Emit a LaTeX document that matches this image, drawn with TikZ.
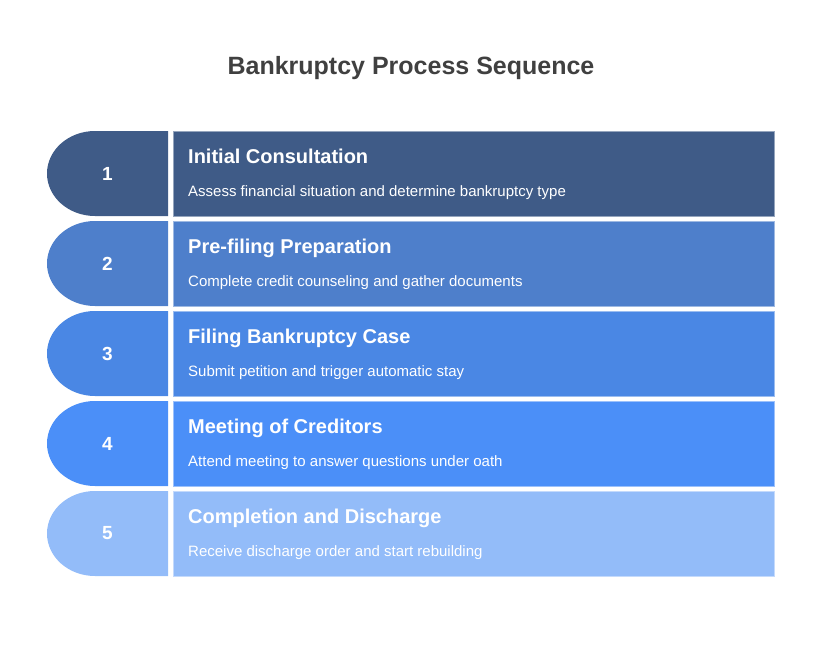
\documentclass[tikz,border=0pt]{standalone}
\usepackage{fontspec}
\setmainfont{Liberation Sans}

\definecolor{titlegray}{HTML}{404040}
\definecolor{stepone}{HTML}{3F5B87}
\definecolor{steptwo}{HTML}{4E7FCB}
\definecolor{stepthree}{HTML}{4A87E4}
\definecolor{stepfour}{HTML}{4B8FF8}
\definecolor{stepfive}{HTML}{93BCF9}

\tikzset{
    titlelabel/.style={font=\fontsize{25}{29}\selectfont\bfseries, text=titlegray, anchor=base, inner sep=0pt},
    numlabel/.style={font=\fontsize{19}{22}\selectfont\bfseries, text=white, inner sep=0pt},
    headlabel/.style={font=\fontsize{20}{24}\selectfont\bfseries, text=white, anchor=base west, inner sep=0pt},
    desclabel/.style={font=\fontsize{15}{18}\selectfont, text=white, anchor=base west, inner sep=0pt},
}

\begin{document}
\begin{tikzpicture}[x=1pt, y=-1pt]

    % Layout of the rows
    \def\xtab{47}
    \def\xsep{168}
    \def\xbox{173}
    \def\xmax{774}
    \def\xtext{188}
    \def\ytop{131}
    \def\hrow{85}
    \def\dy{90}
    \def\rx{48}
    \def\ry{42.5}

    \useasboundingbox (0,0) rectangle (822,648);

    % Title
    \node[titlelabel] (title) at (411,74.5) {Bankruptcy Process Sequence};

    % Steps
    \foreach \i/\col/\head/\desc in {
        1/stepone/Initial Consultation/Assess financial situation and determine bankruptcy type,
        2/steptwo/Pre-filing Preparation/Complete credit counseling and gather documents,
        3/stepthree/Filing Bankruptcy Case/Submit petition and trigger automatic stay,
        4/stepfour/Meeting of Creditors/Attend meeting to answer questions under oath,
        5/stepfive/Completion and Discharge/Receive discharge order and start rebuilding}{
        \pgfmathsetmacro\yt{\ytop+(\i-1)*\dy}
        \pgfmathsetmacro\yb{\yt+\hrow}
        \pgfmathsetmacro\ym{\yt+\hrow/2}
        % number tab
        \fill[\col] (\xsep,\yt) -- (\xtab+\rx,\yt)
            arc[start angle=-90, end angle=-270, x radius=\rx, y radius=\ry]
            -- (\xsep,\yb) -- cycle;
        % content box
        \filldraw[fill=\col, draw=\col!55!white, line width=1pt] (\xbox,\yt) rectangle (\xmax,\yb);
        \node[numlabel] (num\i) at ({(\xtab+\xsep)/2},\ym) {\i};
        \node[headlabel] (head\i) at (\xtext,\yt+32) {\head};
        \node[desclabel] (desc\i) at (\xtext,\yt+65) {\desc};
    }

\end{tikzpicture}
\end{document}
